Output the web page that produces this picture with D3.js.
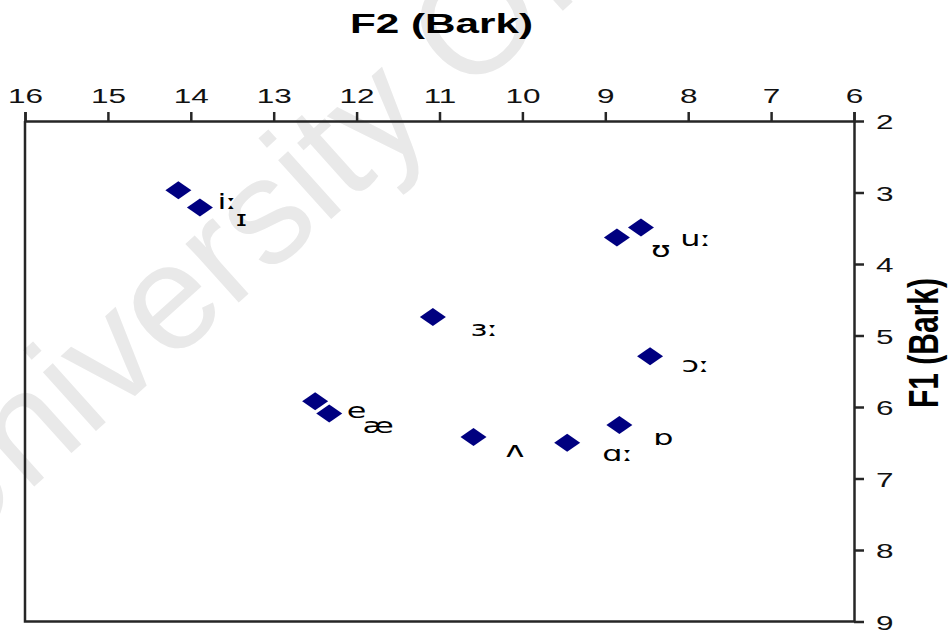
<!DOCTYPE html>
<html>
<head>
<meta charset="utf-8">
<script src="https://cdn.jsdelivr.net/npm/d3@7"></script>
<style>
  html, body { margin: 0; padding: 0; background: #fff; }
</style>
</head>
<body>
<div id="chart"></div>
<script>
// Vowel chart: F2 (top, reversed) against F1 (right, downward), both in Bark

const vowels = ['iː', 'ɪ', 'ɜː', 'uː', 'ʊ', 'ɔː', 'e', 'æ', 'ʌ', 'ɑː', 'ɒ']
const f2 = [14.15, 13.89, 11.08, 8.57, 8.86, 8.46, 12.50, 12.33, 10.59, 9.46, 8.83]
const f1 = [2.97, 3.21, 4.74, 3.49, 3.63, 5.29, 5.92, 6.09, 6.42, 6.50, 6.25]
// where each vowel symbol was written on the chart (Bark)
const labelF2 = [13.56, 13.39, 10.46, 7.91, 8.33, 7.91, 12.00, 11.74, 10.09, 8.85, 8.30]
const labelF1 = [3.15, 3.38, 4.92, 3.66, 3.82, 5.43, 6.07, 6.28, 6.62, 6.67, 6.45]

const f2Ticks = [16, 15, 14, 13, 12, 11, 10, 9, 8, 7, 6]
const f1Ticks = [2, 3, 4, 5, 6, 7, 8, 9]

const width = 951
const height = 633
const margin = {left: 25, right: 97, top: 121, bottom: 11.5}
const stretch = 1.5   // the source picture is wider than it is tall
const axisColour = '#262626'

const svg = d3.select('#chart')
  .append('svg')
  .attr('width', width)
  .attr('height', height)
  .style('font-family', "'Liberation Sans', Arial, sans-serif")

// Faint watermark behind the chart
svg.append('text')
  .attr('transform', 'translate(-54,566) rotate(-42)')
  .style('font-size', '150px')
  .style('fill', '#e9e9e9')
  .text('University Of')

const xScale = d3.scaleLinear().domain([16, 6]).range([margin.left, width - margin.right])
const yScale = d3.scaleLinear().domain([2, 9]).range([margin.top, height - margin.bottom])

// Left and bottom frame lines
svg.append('path')
  .attr('d', `M${xScale(16)},${yScale(2)} V${yScale(9)} H${xScale(6)}`)
  .style('fill', 'none')
  .style('stroke', axisColour)
  .style('stroke-width', 2.5)

// Top axis (F2)
const tAxis = svg.append('g')
  .attr('transform', `translate(0,${yScale(2)})`)
  .call(d3.axisTop(xScale)
    .tickValues(f2Ticks)
    .tickSize(9)
    .tickSizeOuter(9)
    .tickFormat(d3.format('d')))

// Right axis (F1)
const rAxis = svg.append('g')
  .attr('transform', `translate(${xScale(6)},0)`)
  .call(d3.axisRight(yScale)
    .tickValues(f1Ticks)
    .tickSize(10)
    .tickSizeOuter(0)
    .tickFormat(d3.format('d')))

;[tAxis, rAxis].forEach(a => {
  a.attr('font-family', null).attr('font-size', null)
  a.selectAll('path, line')
    .style('stroke', axisColour)
    .style('stroke-width', 2.5)
  a.selectAll('text')
    .attr('x', null).attr('y', null).attr('dy', null)
    .style('font-size', '21px')
    .style('fill', '#111')
})
tAxis.selectAll('text')
  .attr('text-anchor', 'middle')
  .attr('transform', `translate(0,-18) scale(${stretch},1)`)
rAxis.selectAll('text')
  .attr('text-anchor', 'start')
  .attr('transform', `translate(22,7.5) scale(${stretch},1)`)

// Axis titles
svg.append('text')
  .attr('x', 441.5)
  .attr('y', 33)
  .attr('text-anchor', 'middle')
  .attr('textLength', 183)
  .attr('lengthAdjust', 'spacingAndGlyphs')
  .style('font-size', '28px')
  .style('font-weight', 'bold')
  .text('F2 (Bark)')

svg.append('text')
  .attr('transform', `translate(938,343) scale(1.4,1) rotate(-90)`)
  .attr('text-anchor', 'middle')
  .style('font-size', '30px')
  .style('font-weight', 'bold')
  .text('F1 (Bark)')

// Points
const diamond = 'M0,-9 L13,0 L0,9 L-13,0 Z'
svg.append('g')
  .selectAll('path')
  .data(vowels)
  .join('path')
  .attr('d', diamond)
  .attr('transform', (d, i) => `translate(${xScale(f2[i])},${yScale(f1[i])})`)
  .style('fill', '#000080')

// Vowel symbols
svg.append('g')
  .selectAll('text')
  .data(vowels)
  .join('text')
  .attr('text-anchor', 'middle')
  .attr('transform', (d, i) => `translate(${xScale(labelF2[i])},${yScale(labelF1[i]) + 6}) scale(1.45,1)`)
  .style('font-family', "'DejaVu Sans', sans-serif")
  .style('font-size', '22px')
  .style('fill', '#000')
  .text(d => d)
</script>
</body>
</html>
